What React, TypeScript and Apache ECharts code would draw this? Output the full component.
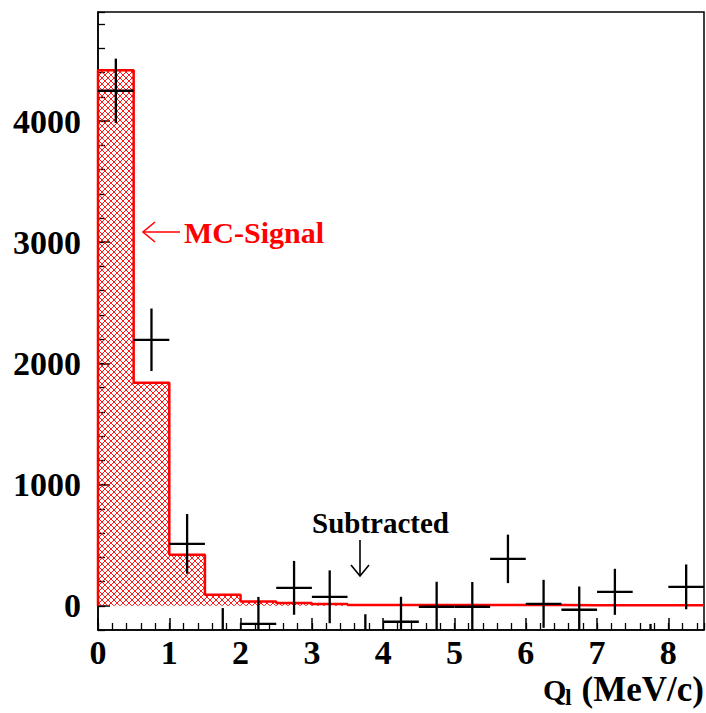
import React, { useEffect, useRef } from "react";
import * as echarts from "echarts";

// Histogram bin edges (MeV/c) and MC-signal contents per 0.5 MeV/c bin
const binEdges = [0, 0.5, 1, 1.5, 2, 2.5, 3, 3.5, 4, 4.5, 5, 5.5, 6, 6.5, 7, 7.5, 8, 8.5];
const mcSignal = [4420, 1840, 420, 90, 35, 22, 14, 7, 6, 6, 6, 6, 6, 5, 5, 5, 5];

// Subtracted data points (bin centres, values, errors)
const binCenters = [0.25, 0.75, 1.25, 1.75, 2.25, 2.75, 3.25, 3.75, 4.25, 4.75, 5.25, 5.75, 6.25, 6.75, 7.25, 7.75, 8.25];
const subtracted = [4250, 2195, 511, -259, -150, 148, 74, -282, -132, -8, -8, 387, 16, -33, 115, -340, 156];
const subtractedErr = [265, 258, 246, 240, 223, 222, 218, 212, 206, 206, 204, 200, 198, 192, 190, 190, 185];

const xTickValues = [0, 1, 2, 3, 4, 5, 6, 7, 8];
const yTickValues = [0, 1000, 2000, 3000, 4000];

const RED = "#ff0000";
const FONT = "'Liberation Serif', 'Times New Roman', serif";

function makeHatch(): HTMLCanvasElement {
  const c = document.createElement("canvas");
  c.width = 6;
  c.height = 6;
  const ctx = c.getContext("2d")!;
  ctx.strokeStyle = RED;
  ctx.lineWidth = 0.9;
  ctx.beginPath();
  ctx.moveTo(0, 0);
  ctx.lineTo(6, 6);
  ctx.moveTo(6, 0);
  ctx.lineTo(0, 6);
  ctx.stroke();
  return c;
}

export default function App() {
  const ref = useRef<HTMLDivElement>(null);

  useEffect(() => {
    if (!ref.current) return;
    const chart = echarts.init(ref.current, undefined, { renderer: "svg" });

    const stepData: number[][] = [[binEdges[0], 0]];
    for (let i = 0; i < mcSignal.length; i++) stepData.push([binEdges[i], mcSignal[i]]);
    stepData.push([binEdges[binEdges.length - 1], mcSignal[mcSignal.length - 1]]);

    const pointData = binCenters.map((c, i) => [c, subtracted[i], subtractedErr[i]]);
    const halfBin = (binEdges[1] - binEdges[0]) / 2;

    const labelStyle = {
      color: "#000",
      fontFamily: FONT,
      fontWeight: "bold" as const,
      fontSize: 34,
      formatter: (v: number) => String(v),
    };

    chart.setOption({
      animation: false,
      backgroundColor: "#fff",
      grid: {
        left: 98,
        right: 2,
        top: 12,
        bottom: 83,
        show: true,
        borderColor: "#000",
        borderWidth: 1.5,
        backgroundColor: "#fff",
      },
      xAxis: [
        {
          type: "value",
          min: 0,
          max: 8.5,
          position: "bottom",
          splitLine: { show: false },
          axisLine: { show: true, onZero: false, lineStyle: { color: "#000", width: 1.5 } },
          axisTick: {
            show: true,
            inside: true,
            length: 12,
            lineStyle: { color: "#000", width: 1.5 },
            customValues: xTickValues,
          },
          axisLabel: { ...labelStyle, margin: 5, customValues: xTickValues },
        },
        {
          type: "value",
          min: 0,
          max: 8.5,
          interval: 0.2,
          position: "bottom",
          splitLine: { show: false },
          axisLine: { show: false, onZero: false },
          axisTick: { show: true, inside: true, length: 7, lineStyle: { color: "#000", width: 1.3 } },
          axisLabel: { show: false },
        },
      ],
      yAxis: [
        {
          type: "value",
          min: -200,
          max: 4900,
          position: "left",
          splitLine: { show: false },
          axisLine: { show: true, onZero: false, lineStyle: { color: "#000", width: 1.5 } },
          axisTick: {
            show: true,
            inside: true,
            length: 12,
            lineStyle: { color: "#000", width: 1.5 },
            customValues: yTickValues,
          },
          axisLabel: { ...labelStyle, margin: 17, customValues: yTickValues },
        },
        {
          type: "value",
          min: -200,
          max: 4900,
          interval: 200,
          position: "left",
          splitLine: { show: false },
          axisLine: { show: false, onZero: false },
          axisTick: { show: true, inside: true, length: 7, lineStyle: { color: "#000", width: 1.3 } },
          axisLabel: { show: false },
        },
      ],
      series: [
        {
          type: "line",
          name: "MC-Signal",
          xAxisIndex: 0,
          yAxisIndex: 0,
          step: "end",
          data: stepData,
          symbol: "none",
          lineStyle: { color: RED, width: 2.5 },
          areaStyle: {
            color: { image: makeHatch(), repeat: "repeat" } as any,
            opacity: 1,
          },
          z: 2,
        },
        {
          type: "custom",
          name: "Subtracted",
          xAxisIndex: 0,
          yAxisIndex: 0,
          data: pointData,
          encode: { x: 0, y: 1 },
          z: 5,
          renderItem: (params: any, api: any) => {
            const x = api.value(0);
            const y = api.value(1);
            const e = api.value(2);
            const cs = params.coordSys;
            const top = cs.y;
            const bot = cs.y + cs.height;
            const [cx, cy] = api.coord([x, y]);
            const xl = api.coord([x - halfBin, y])[0];
            const xr = api.coord([x + halfBin, y])[0];
            const yHi = api.coord([x, y + e])[1];
            const yLo = api.coord([x, y - e])[1];
            const clamp = (v: number) => Math.min(bot, Math.max(top, v));
            const y1 = clamp(yHi);
            const y2 = clamp(yLo);
            const children: any[] = [];
            if (y2 > y1) {
              children.push({
                type: "line",
                shape: { x1: cx, y1, x2: cx, y2 },
                style: { stroke: "#000", lineWidth: 2.3 },
              });
            }
            if (cy >= top && cy <= bot) {
              children.push({
                type: "line",
                shape: { x1: xl, y1: cy, x2: xr, y2: cy },
                style: { stroke: "#000", lineWidth: 2.3 },
              });
            }
            return { type: "group", children };
          },
        },
      ],
      graphic: [
        // MC-Signal label with left arrow
        {
          type: "line",
          shape: { x1: 143, y1: 232, x2: 180, y2: 232 },
          style: { stroke: RED, lineWidth: 1.6 },
        },
        {
          type: "polyline",
          shape: { points: [[155, 222], [143, 232], [155, 242]] },
          style: { stroke: RED, lineWidth: 1.6, fill: "none" },
        },
        {
          type: "text",
          x: 184,
          y: 232,
          style: {
            text: "MC-Signal",
            fill: RED,
            fontFamily: FONT,
            fontWeight: "bold",
            fontSize: 30,
            align: "left",
            verticalAlign: "middle",
          },
        },
        // Subtracted label with down arrow
        {
          type: "text",
          x: 312,
          y: 523,
          style: {
            text: "Subtracted",
            fill: "#000",
            fontFamily: FONT,
            fontWeight: "bold",
            fontSize: 29,
            align: "left",
            verticalAlign: "middle",
          },
        },
        {
          type: "line",
          shape: { x1: 360, y1: 540, x2: 360, y2: 576 },
          style: { stroke: "#000", lineWidth: 1.6 },
        },
        {
          type: "polyline",
          shape: { points: [[351, 565], [360, 576], [369, 565]] },
          style: { stroke: "#000", lineWidth: 1.6, fill: "none" },
        },
        // Axis title Q_l (MeV/c)
        {
          type: "text",
          x: 543,
          y: 689,
          style: {
            text: "Q",
            fill: "#000",
            fontFamily: FONT,
            fontWeight: "bold",
            fontSize: 30,
            align: "left",
            verticalAlign: "middle",
          },
        },
        {
          type: "text",
          x: 565,
          y: 697,
          style: {
            text: "l",
            fill: "#000",
            fontFamily: FONT,
            fontWeight: "bold",
            fontSize: 24,
            align: "left",
            verticalAlign: "middle",
          },
        },
        {
          type: "text",
          x: 704,
          y: 689,
          style: {
            text: "(MeV/c)",
            fill: "#000",
            fontFamily: FONT,
            fontWeight: "bold",
            fontSize: 35,
            align: "right",
            verticalAlign: "middle",
          },
        },
      ],
    });

    return () => chart.dispose();
  }, []);

  return (
    <div
      ref={ref}
      style={{ position: "fixed", left: 0, top: 0, width: 706, height: 713 }}
    />
  );
}
